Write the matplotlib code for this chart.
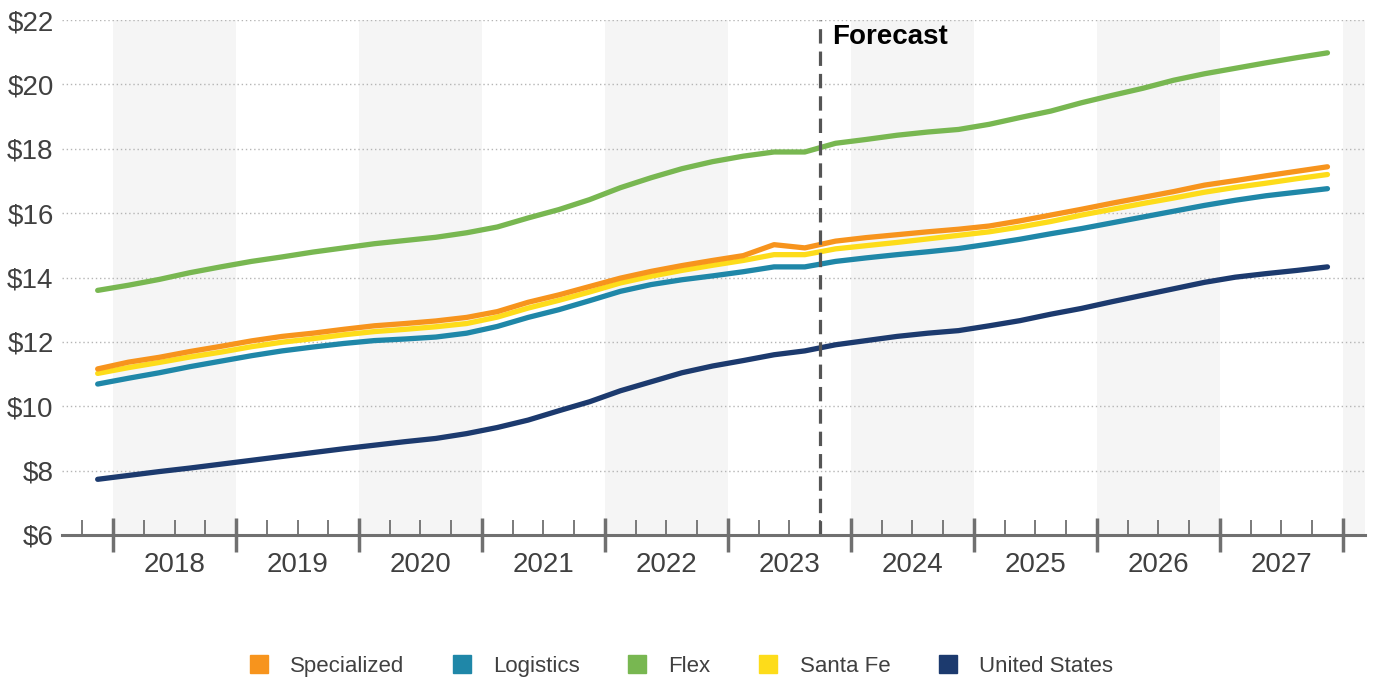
import matplotlib
matplotlib.use("Agg")
import matplotlib.pyplot as plt
from matplotlib.lines import Line2D
import numpy as np

plt.rcParams['font.family'] = ['Liberation Sans', 'DejaVu Sans']

# quarterly, 2017 Q4 .. 2027 Q4 (41 points)
quarters = 2017.875 + 0.25 * np.arange(41)
forecast_start = 2023.75

specialized = [11.16, 11.37, 11.52, 11.70, 11.86, 12.03, 12.17, 12.27, 12.39, 12.50,
               12.57, 12.65, 12.76, 12.94, 13.23, 13.46, 13.72, 13.98, 14.19, 14.37,
               14.53, 14.68, 15.02, 14.92, 15.13, 15.24, 15.33, 15.42, 15.50, 15.60,
               15.76, 15.94, 16.12, 16.31, 16.49, 16.67, 16.87, 17.01, 17.16, 17.30, 17.44]
logistics = [10.69, 10.87, 11.04, 11.23, 11.40, 11.57, 11.72, 11.84, 11.95, 12.04,
             12.09, 12.15, 12.27, 12.48, 12.76, 13.00, 13.28, 13.57, 13.78, 13.93,
             14.05, 14.18, 14.33, 14.33, 14.50, 14.61, 14.71, 14.80, 14.90, 15.04,
             15.19, 15.36, 15.52, 15.70, 15.88, 16.06, 16.24, 16.40, 16.54, 16.65, 16.76]
flex = [13.60, 13.76, 13.94, 14.15, 14.33, 14.50, 14.64, 14.79, 14.92, 15.05,
        15.15, 15.25, 15.39, 15.57, 15.85, 16.11, 16.42, 16.79, 17.10, 17.38,
        17.60, 17.77, 17.90, 17.90, 18.17, 18.29, 18.42, 18.52, 18.60, 18.76,
        18.97, 19.17, 19.43, 19.66, 19.88, 20.13, 20.33, 20.50, 20.67, 20.83, 20.98]
santa_fe = [11.02, 11.20, 11.36, 11.53, 11.68, 11.85, 11.99, 12.10, 12.22, 12.32,
            12.39, 12.47, 12.57, 12.77, 13.05, 13.29, 13.55, 13.83, 14.04, 14.22,
            14.38, 14.53, 14.71, 14.71, 14.89, 14.99, 15.09, 15.20, 15.31, 15.42,
            15.57, 15.74, 15.94, 16.12, 16.30, 16.47, 16.65, 16.80, 16.93, 17.07, 17.20]
united_states = [7.73, 7.85, 7.97, 8.08, 8.20, 8.32, 8.44, 8.56, 8.68, 8.79,
                 8.90, 9.00, 9.15, 9.34, 9.57, 9.86, 10.14, 10.48, 10.76, 11.04,
                 11.25, 11.42, 11.60, 11.72, 11.91, 12.04, 12.17, 12.27, 12.35, 12.50,
                 12.66, 12.86, 13.04, 13.25, 13.45, 13.65, 13.85, 14.01, 14.12, 14.22, 14.33]

series_names = ["Specialized", "Logistics", "Flex", "Santa Fe", "United States"]
colors = {"Specialized": "#F7941D", "Logistics": "#1F87A8", "Flex": "#78B751",
          "Santa Fe": "#FDDC1A", "United States": "#1C3A6E"}
years = list(range(2018, 2028))
yticks = [6, 8, 10, 12, 14, 16, 18, 20, 22]

fig = plt.figure(figsize=(13.75, 6.81), dpi=100)
ax = fig.add_axes([0.0451, 0.2144, 0.9476, 0.7562])
x0, x1 = 2017.585, 2028.18
ax.set_xlim(x0, x1)
ax.set_ylim(6, 22)

# alternating year bands
for y in range(2018, 2029, 2):
    ax.axvspan(y, min(y + 1, x1), color="#f5f5f5", lw=0, zorder=0)

for v in yticks[1:]:
    ax.axhline(v, color="#b5b5b5", lw=1, ls=(0, (1, 2)), zorder=1)

data = {"United States": united_states, "Flex": flex, "Logistics": logistics,
        "Santa Fe": santa_fe, "Specialized": specialized}
for name, vals in data.items():
    ax.plot(quarters, vals, color=colors[name], lw=3.8, solid_capstyle="round",
            solid_joinstyle="round", zorder=3)

ax.axvline(forecast_start, color="#555555", lw=2.3, ls=(0, (4.5, 2.5)), zorder=4)
ax.text(forecast_start + 0.1, 21.47, "Forecast", fontsize=20, fontweight="bold",
        color="black", va="center", ha="left", zorder=5)

for s in ["top", "right", "left"]:
    ax.spines[s].set_visible(False)
ax.spines["bottom"].set_color("#707070")
ax.spines["bottom"].set_linewidth(2.2)
ax.spines["bottom"].set_zorder(4)

ax.set_xticks(range(2018, 2029))
ax.set_xticklabels([])
minor = [q for q in np.arange(2017.75, 2028.0, 0.25) if q % 1 != 0]
ax.set_xticks(minor, minor=True)
ax.tick_params(axis="x", which="major", direction="inout", length=24, width=2.5,
               color="#707070")
ax.tick_params(axis="x", which="minor", direction="in", length=11, width=1.3,
               color="#707070")
for y in years:
    ax.text(y + 0.5, -0.058, str(y), transform=ax.get_xaxis_transform(),
            ha="center", va="center", fontsize=20, color="#404040")

ax.set_yticks(yticks)
ax.set_yticklabels(["$%d" % v for v in yticks], fontsize=20, color="#404040")
ax.tick_params(axis="y", length=0, pad=6)

handles = [Line2D([], [], ls="none", marker="s", markersize=13,
                  color=colors[n]) for n in series_names]
fig.legend(handles, series_names, loc="center", bbox_to_anchor=(0.4956, 0.022),
           ncol=5, frameon=False, fontsize=16, handlelength=0.8,
           handletextpad=1.0, columnspacing=2.2, labelcolor="#404040")

fig.savefig("out.png", dpi=100)
